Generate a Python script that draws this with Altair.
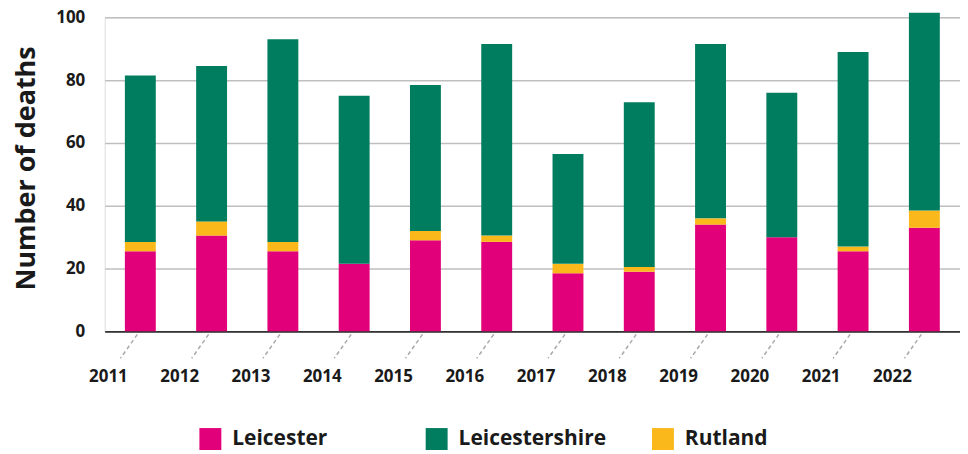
import altair as alt
import pandas as pd

years = ["2011", "2012", "2013", "2014", "2015", "2016", "2017", "2018", "2019", "2020", "2021", "2022"]
leicester = [25.5, 30.5, 25.5, 21.5, 29, 28.5, 18.5, 19, 34, 30, 25.5, 33]
rutland = [3, 4.5, 3, 0, 3, 2, 3, 1.5, 2, 0, 1.5, 5.5]
leicestershire = [53, 49.5, 64.5, 53.5, 46.5, 61, 35, 52.5, 55.5, 46, 62, 63]

areas = ["Leicester", "Leicestershire", "Rutland"]
colors = ["#E2007A", "#007C5F", "#FAB81A"]
stack_order = {"Leicester": 0, "Rutland": 1, "Leicestershire": 2}

rows = []
for i, y in enumerate(years):
    for area, vals in (("Leicester", leicester), ("Rutland", rutland), ("Leicestershire", leicestershire)):
        rows.append({"year": y, "area": area, "deaths": vals[i], "ord": stack_order[area]})
df = pd.DataFrame(rows)
ticks_df = pd.DataFrame({"year": years})

FONT = "Open Sans"

xscale = alt.Scale(domain=years, paddingInner=0, paddingOuter=0)

bars = alt.Chart(df).mark_bar(size=31).encode(
    x=alt.X("year:N", scale=xscale, sort=years,
            axis=alt.Axis(title=None, labelAngle=0, ticks=False, labelOffset=-32,
                          labelPadding=37, labelFontSize=17, labelFontWeight="bold",
                          labelColor="#1a1a1a", domainColor="#333333", domainWidth=2,
                          grid=False, labelFont=FONT)),
    y=alt.Y("deaths:Q", stack="zero",
            scale=alt.Scale(domain=[0, 100], nice=False),
            axis=alt.Axis(title="Number of deaths", values=[0, 20, 40, 60, 80, 100],
                          titleFontSize=27, titleFontWeight="bold", titleColor="#1a1a1a",
                          titleFont=FONT, titlePadding=15, titleY=151,
                          labelFontSize=17, labelFontWeight="bold", labelColor="#1a1a1a",
                          labelFont=FONT, labelPadding=20, ticks=False, domain=False,
                          grid=True, gridColor="#bfbfbf", gridWidth=1.5)),
    color=alt.Color("area:N", scale=alt.Scale(domain=areas, range=colors),
                    legend=alt.Legend(title=None, orient="none", direction="horizontal",
                                      legendX=95, legendY=412, symbolType="square",
                                      symbolSize=484, symbolStrokeWidth=0, symbolOpacity=1,
                                      labelFontSize=21, labelFontWeight="bold", labelFont=FONT,
                                      labelColor="#1a1a1a", labelOffset=11, gridAlign="all",
                                      columnPadding=46, padding=0)),
    order=alt.Order("ord:Q"),
)

dash = alt.Chart(ticks_df).mark_rule(
    strokeDash=[4, 3], color="#aaaaaa", strokeWidth=1.5, xOffset=-3, x2Offset=-20
).encode(
    x=alt.X("year:N", scale=xscale, sort=years),
    x2=alt.X2("year"),
    y=alt.value(318),
    y2=alt.value(342),
)

chart = alt.layer(bars, dash).properties(
    width=858, height=315,
    autosize=alt.AutoSizeParams(type="none"),
    padding={"left": 97, "top": 8.7, "right": 0, "bottom": 120},
).configure_view(stroke=None).configure(font=FONT)

chart.save("out.html", embed_options={"renderer": "svg", "actions": False})
